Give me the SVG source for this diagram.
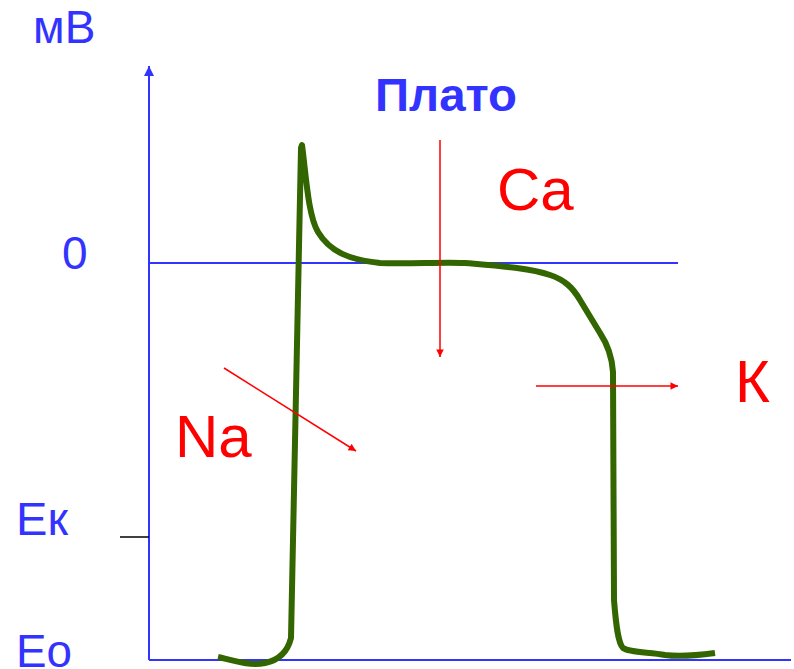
<svg xmlns="http://www.w3.org/2000/svg" width="794" height="669" viewBox="0 0 794 669">
<defs>
<marker id="ab" viewBox="0 0 10 10" refX="10" refY="5" markerWidth="5" markerHeight="5" markerUnits="strokeWidth" orient="auto"><path d="M0,0 L10,5 L0,10 z" fill="#3333ff"/></marker>
<marker id="ar" viewBox="0 0 10 10" refX="10" refY="5" markerWidth="6" markerHeight="5" markerUnits="strokeWidth" orient="auto"><path d="M0,0 L10,5 L0,10 z" fill="#ff0000"/></marker>
</defs>
<style>
.ax{stroke:#3333ff;stroke-width:2;fill:none}
.rd{stroke:#ff0000;stroke-width:1.5;fill:none}
.bl{fill:#3333ff;font-family:"Liberation Sans",Arial,sans-serif;font-size:46px}
.rt{fill:#ff0000;font-family:"Liberation Sans",Arial,sans-serif;font-size:60px}
</style>
<rect width="794" height="669" fill="#fff"/>
<g id="axes">
<line class="ax" x1="149" y1="660" x2="149" y2="66" marker-end="url(#ab)"/>
<line class="ax" x1="149" y1="660" x2="791" y2="660"/>
<line class="ax" x1="149" y1="263" x2="678" y2="263"/>
<line x1="120" y1="537" x2="149" y2="537" stroke="#000" stroke-width="1.5"/>
</g>
<g id="curve">
<path d="M218,657 C235,661 250,666 265,663 C280,660 288,650 291,638 L301,148 L302,145 C306,175 308,215 318,232 C330,252 350,260 380,263 C410,264 440,262 465,263 C500,266 530,268 550,275 C565,280 573,288 580,300 L600,333 C608,345 612,357 613,372 L614,600 C616,625 618,643 623,648 C630,653 650,652 665,655 C680,657 700,655 715,653" stroke="#336600" stroke-width="6" fill="none" stroke-linejoin="round"/>
</g>
<g id="connectors">
<line class="rd" x1="440" y1="140" x2="440" y2="357" marker-end="url(#ar)"/>
<line class="rd" x1="536" y1="386" x2="678" y2="386" marker-end="url(#ar)"/>
<line class="rd" x1="224" y1="368" x2="356" y2="451" marker-end="url(#ar)"/>
</g>
<g id="labels">
<text class="bl" x="33" y="43">мВ</text>
<text class="bl" x="375" y="111" font-weight="bold" font-size="49" textLength="142" lengthAdjust="spacingAndGlyphs">Плато</text>
<text class="bl" x="62" y="269">0</text>
<text class="bl" x="16" y="535" font-size="48" textLength="52" lengthAdjust="spacingAndGlyphs">Eк</text>
<text class="bl" x="16" y="667" font-size="47" textLength="56" lengthAdjust="spacingAndGlyphs">Eo</text>
<text class="rt" x="497" y="210">Ca</text>
<text class="rt" x="735" y="402">К</text>
<text class="rt" x="175" y="457">Na</text>
</g>
</svg>
